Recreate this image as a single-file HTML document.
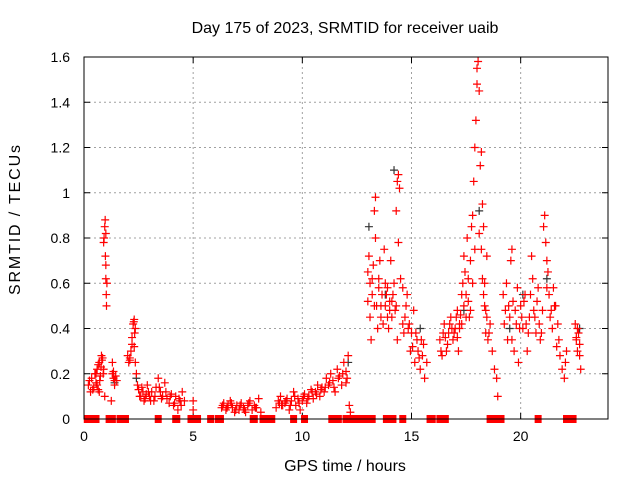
<!DOCTYPE html>
<html><head><meta charset="utf-8"><style>
html,body{margin:0;padding:0;background:#fff;}
svg{display:block;font-family:"Liberation Sans",sans-serif;}
</style></head><body>
<svg id="chart" width="640" height="480" viewBox="0 0 640 480" xmlns="http://www.w3.org/2000/svg">
<rect width="640" height="480" fill="#fff"/>
<text x="345" y="33" font-size="16" text-anchor="middle">Day 175 of 2023, SRMTID for receiver uaib</text>
<text x="345" y="471" font-size="16" text-anchor="middle">GPS time / hours</text>
<text transform="translate(20,220) rotate(-90)" font-size="16" text-anchor="middle" textLength="150" lengthAdjust="spacing">SRMTID / TECUs</text>
<g id="grid"></g><g id="ticks"></g><g id="pts"></g>
<rect x="84" y="57" width="524" height="362" fill="none" stroke="#000" stroke-width="1"/>
</svg>
<script>
const xTicks=[0,5,10,15,20];
const yTicks=[0,0.2,0.4,0.6,0.8,1,1.2,1.4,1.6];
const yTickLabels=["0","0.2","0.4","0.6","0.8","1","1.2","1.4","1.6"];
const redTimes=[0.2,0.3,0.35,0.45,0.5,0.55,0.6,0.65,0.7,0.75,0.8,0.85,0.9,0.95,0.9,0.95,0.97,1.0,0.98,1.0,1.02,1.03,1.0,1.05,0.92,
1.3,1.35,1.4,1.45,1.5,1.3,1.25,
2.0,2.05,2.1,2.15,2.2,2.25,2.3,2.35,2.3,2.35,2.4,2.45,
2.5,2.6,2.7,2.8,2.9,3.0,3.1,3.2,3.3,3.4,3.5,3.6,3.7,3.8,3.9,4.0,4.1,4.2,4.3,4.4,4.5,4.6,5.0,5.0,
6.3,6.4,6.5,6.6,6.7,6.8,6.9,7.0,7.1,7.2,7.3,7.4,7.5,7.6,7.7,7.8,7.9,8.0,8.1,
8.8,8.9,9.0,9.1,9.2,9.3,9.4,9.5,9.6,9.7,9.8,9.9,10.0,10.1,10.2,10.3,10.4,10.5,10.6,10.7,10.8,10.9,11.0,11.1,11.2,11.3,11.4,11.5,11.6,11.7,11.8,11.9,12.0,12.05,12.1,12.15,12.2,
13.0,13.05,13.1,13.1,13.15,13.2,13.25,13.3,13.35,13.35,13.4,13.45,13.5,13.55,13.6,13.7,13.75,13.8,13.85,13.9,14.0,14.05,14.1,14.2,14.3,14.35,14.4,14.45,14.4,14.3,14.35,14.5,14.6,14.7,14.8,14.9,14.95,15.0,15.1,15.15,15.2,15.3,15.4,15.45,15.5,15.6,15.7,
16.3,16.4,16.5,16.6,16.7,16.8,16.9,17.0,17.1,17.15,17.2,17.3,17.35,17.4,17.45,17.5,17.55,17.6,17.65,17.7,17.75,17.8,17.85,17.9,17.95,18.0,18.05,18.1,18.0,18.15,18.2,18.25,18.1,18.2,18.3,18.35,18.4,18.45,18.3,18.4,18.5,18.6,18.7,18.8,18.9,18.95,
19.2,19.3,19.35,19.4,19.5,19.55,19.6,19.65,19.7,19.8,19.85,19.9,20.0,20.1,20.2,20.3,20.4,20.5,20.55,20.6,20.7,20.8,20.9,21.0,21.05,21.1,21.15,21.2,21.25,21.3,21.35,
21.5,21.6,21.7,21.75,21.8,21.9,22.0,22.05,22.1,22.5,22.55,22.6,22.65,22.7,22.75,
0.25,0.4,0.55,0.65,0.72,0.78,0.82,0.88,0.6,0.7,1.35,1.4,2.1,2.2,2.28,2.32,2.55,2.65,2.75,2.85,2.95,3.05,3.25,3.45,3.55,3.75,3.95,4.15,4.35,4.45,
6.35,6.55,6.75,6.95,7.15,7.35,7.55,7.85,8.95,9.05,9.25,9.45,9.65,9.85,10.05,10.25,10.45,10.65,10.85,11.05,11.25,11.45,11.65,11.85,12.0,
13.0,13.2,13.3,13.5,13.6,13.65,13.8,13.9,13.95,14.0,14.1,14.15,14.25,14.6,14.65,14.75,14.85,15.05,15.25,15.35,15.55,
16.35,16.45,16.55,16.65,16.75,16.85,16.95,17.05,17.1,17.2,17.25,17.3,17.4,17.5,17.6,17.7,17.8,17.9,18.25,18.35,18.45,18.55,
19.25,19.45,19.6,19.75,19.95,20.05,20.15,20.25,20.35,20.45,20.65,20.75,20.85,20.95,21.2,21.4,21.45,21.55,21.65,22.55,22.6,22.7];
const redValues=[0.15,0.12,0.18,0.14,0.2,0.16,0.22,0.13,0.25,0.19,0.28,0.27,0.22,0.1,0.78,0.85,0.88,0.82,0.72,0.62,0.55,0.5,0.68,0.6,0.8,
0.2,0.18,0.15,0.19,0.17,0.25,0.08,
0.28,0.25,0.27,0.3,0.36,0.42,0.44,0.4,0.32,0.25,0.2,0.15,
0.13,0.1,0.12,0.09,0.15,0.1,0.12,0.08,0.14,0.18,0.12,0.1,0.16,0.09,0.07,0.11,0.06,0.1,0.04,0.08,0.12,0.08,0.08,0.04,
0.05,0.07,0.04,0.06,0.08,0.05,0.03,0.06,0.04,0.07,0.05,0.03,0.06,0.08,0.04,0.06,0.05,0.09,0.03,
0.05,0.08,0.1,0.06,0.07,0.09,0.04,0.08,0.12,0.06,0.09,0.04,0.08,0.11,0.07,0.1,0.13,0.09,0.12,0.15,0.1,0.14,0.12,0.18,0.15,0.2,0.17,0.12,0.22,0.19,0.15,0.25,0.21,0.18,0.28,0.06,0.03,
0.65,0.72,0.6,0.45,0.35,0.55,0.68,0.92,0.98,0.8,0.5,0.4,0.58,0.7,0.5,0.42,0.75,0.6,0.55,0.45,0.48,0.7,0.52,0.6,0.92,1.05,1.08,1.02,0.78,0.5,0.35,0.62,0.58,0.45,0.55,0.42,0.3,0.38,0.48,0.25,0.38,0.3,0.22,0.35,0.28,0.18,0.25,
0.35,0.28,0.42,0.3,0.38,0.45,0.35,0.4,0.48,0.3,0.42,0.55,0.6,0.72,0.65,0.55,0.8,0.62,0.45,0.7,0.85,0.9,1.05,1.2,1.32,1.48,1.58,1.45,1.55,1.12,1.18,0.95,0.82,0.75,0.85,0.6,0.48,0.72,0.55,0.38,0.35,0.42,0.3,0.22,0.18,0.1,
0.55,0.48,0.6,0.35,0.45,0.7,0.75,0.52,0.3,0.42,0.58,0.25,0.5,0.4,0.55,0.3,0.45,0.72,0.62,0.48,0.38,0.58,0.35,0.48,0.85,0.9,0.78,0.7,0.65,0.55,0.45,
0.58,0.5,0.42,0.35,0.28,0.22,0.18,0.25,0.3,0.42,0.35,0.3,0.38,0.28,0.22,
0.17,0.13,0.2,0.24,0.17,0.23,0.26,0.2,0.15,0.12,0.21,0.17,0.26,0.33,0.43,0.38,0.1,0.14,0.08,0.11,0.12,0.08,0.1,0.14,0.09,0.12,0.1,0.07,0.09,0.06,
0.06,0.05,0.07,0.04,0.06,0.04,0.07,0.05,0.07,0.06,0.08,0.06,0.1,0.07,0.1,0.09,0.12,0.11,0.13,0.14,0.16,0.14,0.18,0.2,0.16,
0.52,0.62,0.5,0.62,0.45,0.55,0.5,0.58,0.4,0.52,0.45,0.55,0.48,0.42,0.38,0.5,0.4,0.32,0.35,0.27,0.33,
0.3,0.38,0.36,0.33,0.42,0.4,0.38,0.45,0.36,0.4,0.46,0.42,0.5,0.45,0.52,0.48,0.6,0.75,0.62,0.5,0.45,0.38,
0.42,0.5,0.35,0.48,0.4,0.45,0.52,0.42,0.38,0.55,0.45,0.52,0.42,0.38,0.58,0.48,0.4,0.5,0.32,0.36,0.4,0.33];
const greyTimes=[1.4,2.4,12.1,13.05,13.8,14.2,15.4,17.4,18.1,19.5,20.1,21.2,22.7];
const greyValues=[0.16,0.18,0.25,0.85,0.55,1.1,0.4,0.48,0.92,0.4,0.55,0.62,0.4];
const zeroTimes=[0.15,0.25,0.35,0.45,0.55,1.15,1.3,1.65,1.75,1.9,3.4,4.2,4.25,4.9,5.1,5.2,5.8,6.15,6.2,6.25,7.75,7.8,8.2,8.25,8.5,8.55,8.6,9.6,10.1,11.35,11.4,11.45,11.65,12.0,12.1,12.2,12.25,12.4,12.5,12.55,12.6,12.7,12.8,12.9,13.0,13.1,13.2,13.85,13.95,14.1,14.15,14.6,15.85,15.95,16.3,16.4,16.5,16.55,18.6,18.7,18.8,19.0,19.1,20.8,22.1,22.2,22.3,22.4];

const X0=84,X1=608,Y0=419,Y1=57,TMAX=24,VMAX=1.6;
function sx(t){return X0+t*(X1-X0)/TMAX;}
function sy(v){return Y0-v*(Y0-Y1)/VMAX;}
const NS="http://www.w3.org/2000/svg";
function mk(tag,attrs,parent){const e=document.createElementNS(NS,tag);for(const k in attrs)e.setAttribute(k,attrs[k]);parent.appendChild(e);return e;}
const grid=document.getElementById('grid'),ticks=document.getElementById('ticks'),pts=document.getElementById('pts');
xTicks.forEach(t=>{
  const x=sx(t);
  if(t>0){const g=mk('line',{x1:x,x2:x,y1:Y1,y2:Y0,stroke:'#a0a0a0','stroke-dasharray':'2,3'},grid);
  
  }
  mk('line',{x1:x,x2:x,y1:Y0,y2:Y0-6,stroke:'#000'},ticks);
  mk('line',{x1:x,x2:x,y1:Y1,y2:Y1+6,stroke:'#000'},ticks);
  const l=mk('text',{x:x,y:Y0+22,'font-size':14,'text-anchor':'middle'},ticks);
  l.textContent=String(t);
  
  
});
yTicks.forEach((v,i)=>{
  const y=sy(v);
  if(v>0&&v<VMAX){const g=mk('line',{x1:X0,x2:X1,y1:y,y2:y,stroke:'#a0a0a0','stroke-dasharray':'2,3'},grid);
  
  }
  mk('line',{x1:X0,x2:X0+6,y1:y,y2:y,stroke:'#000'},ticks);
  mk('line',{x1:X1,x2:X1-6,y1:y,y2:y,stroke:'#000'},ticks);
  const l=mk('text',{x:X0-14,y:y+5,'font-size':14,'text-anchor':'end'},ticks);
  l.textContent=yTickLabels[i];
  
  
});
function plus(t,v,color,name){
  const x=sx(t),y=sy(v);
  const p=mk('path',{d:`M${x-4} ${y}H${x+4}M${x} ${y-4}V${y+4}`,stroke:color,'stroke-width':1.2,fill:'none'},pts);
  
  
}
greyTimes.forEach((t,i)=>plus(t,greyValues[i],'#333','grey-point'));
redTimes.forEach((t,i)=>plus(t,redValues[i],'#f00','red-point'));
zeroTimes.forEach(t=>{
  const r=mk('rect',{x:sx(t)-3.5,y:Y0-4,width:7,height:8,fill:'#f00'},pts);
  
  
});
</script>
</body></html>
